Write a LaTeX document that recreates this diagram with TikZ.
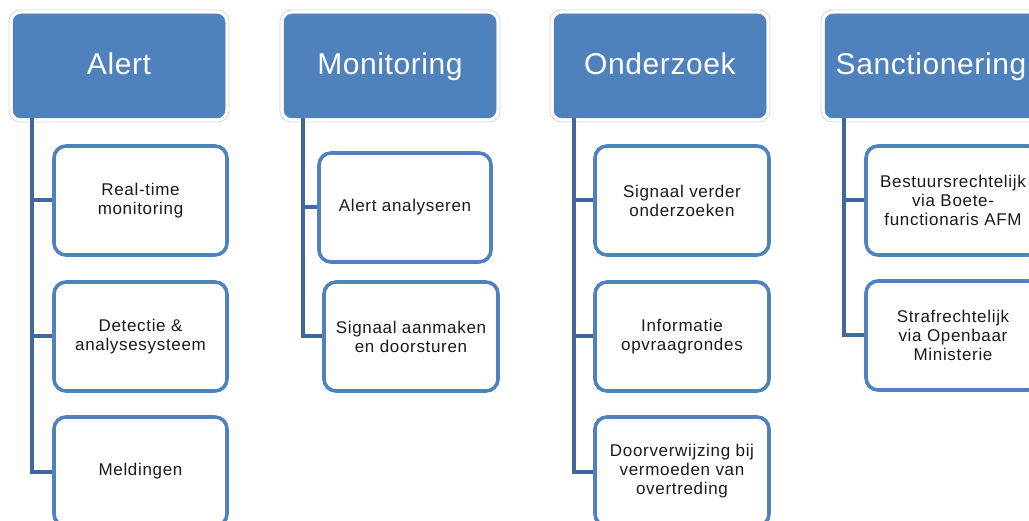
\documentclass[tikz,border=0pt]{standalone}
\usepackage{fontspec}
\setmainfont{Liberation Sans}
\newfontfamily\headfont[LetterSpace=2]{Liberation Sans}
\newfontfamily\itemfont[LetterSpace=4]{Liberation Sans}
\definecolor{accent}{HTML}{4F81BD}
\definecolor{trunk}{HTML}{41689C}
\definecolor{halo}{HTML}{D4D8DD}
\definecolor{itemtext}{HTML}{1A1A1A}
\tikzset{
  phase/.style={rounded corners=8pt, fill=accent, draw=accent, line width=0.5pt,
    minimum width=212pt, minimum height=104pt, inner sep=0pt,
    text height=22pt, text depth=5pt,
    text=white, font=\headfont\fontsize{30}{34}\selectfont},
  phasehalo/.style={rounded corners=11pt, fill=white, draw=halo, line width=0.8pt},
  task/.style={rounded corners=12pt, fill=white, draw=accent, line width=3.6pt,
    minimum width=174pt, minimum height=109pt, inner sep=2pt, align=center,
    text=itemtext, font=\itemfont\fontsize{17}{19}\selectfont},
  link/.style={draw=trunk, line width=4pt}
}
\begin{document}
\begin{tikzpicture}[x=1pt,y=-1pt]
\useasboundingbox (0,0) rectangle (1029,521);
\clip (0,0) rectangle (1029,521);

% phase headers with their light outer outline
\foreach \cx in {119,390,660,931}{
  \path[phasehalo] (\cx-110,10) rectangle (\cx+110,122);
}
\node[phase] (hA) at (119,66) {Alert};
\node[phase] (hM) at (390,66) {Monitoring};
\node[phase] (hO) at (660,66) {Onderzoek};
\node[phase] (hS) at (931,66) {Sanctionering};

% trunk start points under each header
\coordinate (tA) at (32,118);
\coordinate (tM) at (303,118);
\coordinate (tO) at (574,118);
\coordinate (tS) at (844,118);

% tasks per phase
\node[task, minimum width=173pt] (a1) at (140.5,200.5) {Real-time\\monitoring};
\node[task, minimum width=173pt] (a2) at (140.5,336.5) {Detectie \&\\analysesysteem};
\node[task, minimum width=173pt] (a3) at (140.5,471.5) {Meldingen};

\node[task, minimum width=172pt] (m1) at (405,207.5) {Alert analyseren};
\node[task] (m2) at (411,336.5) {Signaal aanmaken\\en doorsturen};

\node[task] (o1) at (682,200.5) {Signaal verder\\onderzoeken};
\node[task] (o2) at (682,336.5) {Informatie\\opvraagrondes};
\node[task] (o3) at (682,471.5) {Doorverwijzing bij\\vermoeden van\\overtreding};

\node[task] (s1) at (953,200.5) {Bestuursrechtelijk\\via Boete-\\functionaris AFM};
\node[task] (s2) at (953,335.5) {Strafrechtelijk\\via Openbaar\\Ministerie};

% connectors from each trunk to its tasks
\draw[link] (tA) |- (a1.west);
\draw[link] (tA) |- (a2.west);
\draw[link] (tA) |- (a3.west);
\draw[link] (tM) |- (m1.west);
\draw[link] (tM) |- (m2.west);
\draw[link] (tO) |- (o1.west);
\draw[link] (tO) |- (o2.west);
\draw[link] (tO) |- (o3.west);
\draw[link] (tS) |- (s1.west);
\draw[link] (tS) |- (s2.west);
\end{tikzpicture}
\end{document}
